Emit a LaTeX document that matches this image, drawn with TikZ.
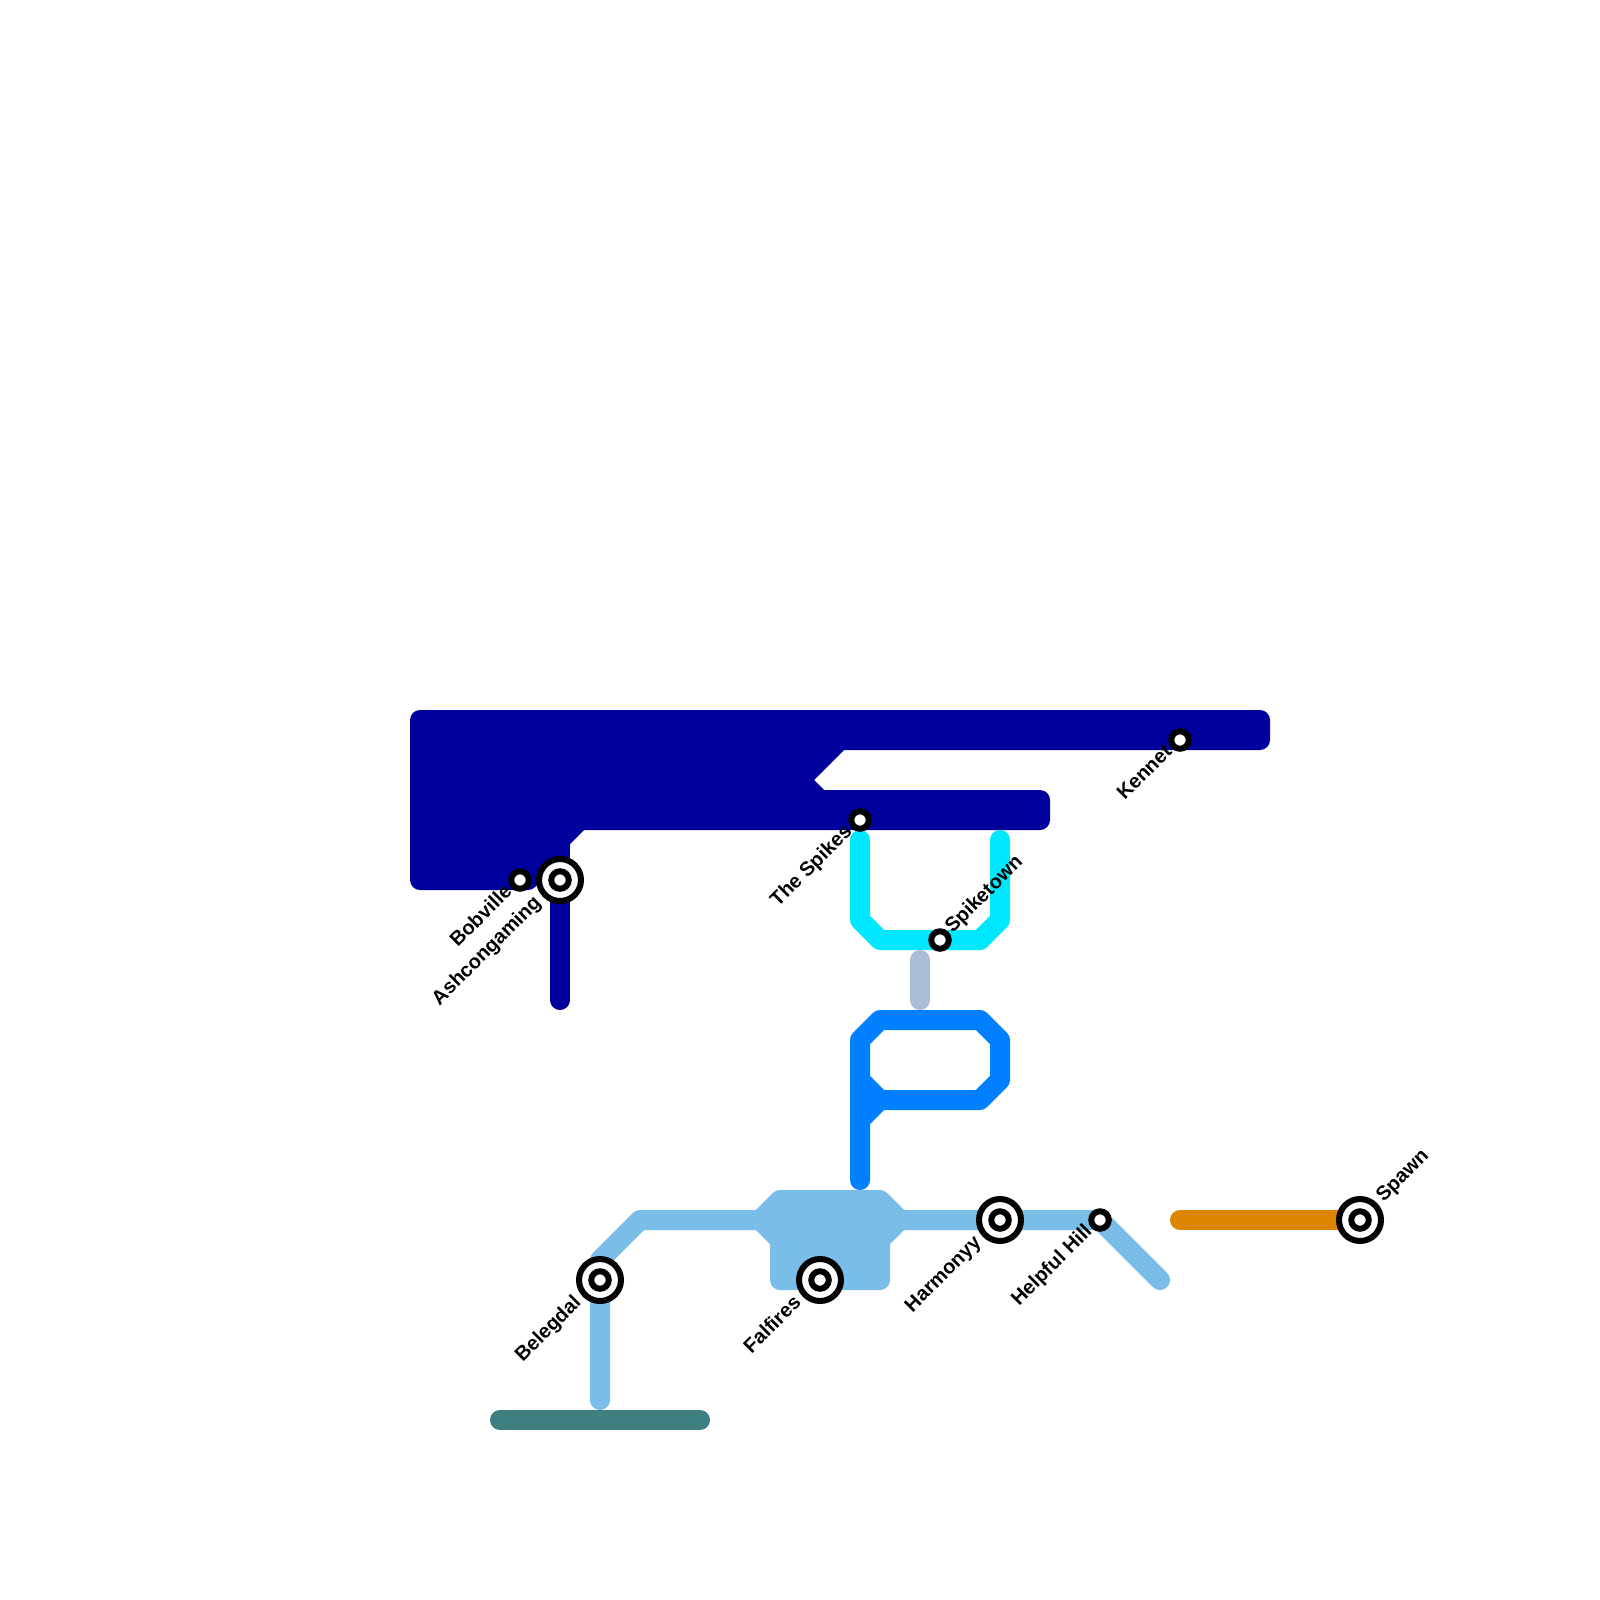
\documentclass[tikz,border=0pt]{standalone}
\usepackage{fontspec}
\setmainfont{Liberation Sans}
\definecolor{navy}{HTML}{00009C}
\definecolor{skyb}{HTML}{7ABDE9}
\definecolor{cyanl}{HTML}{00E8FF}
\definecolor{azure}{HTML}{007FFF}
\definecolor{greyb}{HTML}{ABBCD8}
\definecolor{tealg}{HTML}{3E7F7F}
\definecolor{orng}{HTML}{DD8500}
\tikzset{
  x=1pt,y=-1pt,
  metro/.style={line width=20pt,line cap=round,line join=round},
  smallst/.style={circle,draw=black,fill=white,line width=6pt,minimum size=17.5pt,inner sep=0pt,outer sep=0pt},
  bigst/.style={circle,draw=black,fill=white,line width=6pt,minimum size=42pt,inner sep=0pt,outer sep=0pt},
  bigcore/.style={circle,draw=black,fill=white,line width=6pt,minimum size=17.5pt,inner sep=0pt,outer sep=0pt},
  lbl/.style={font=\bfseries\fontsize{20}{20}\selectfont,inner sep=0pt,outer sep=0pt,rotate=45},
  lblw/.style={lbl,anchor=mid east},
  lble/.style={lbl,anchor=mid west}
}
\begin{document}
\begin{tikzpicture}
\useasboundingbox (0,0) rectangle (1600,1600);
\fill[white] (0,0) rectangle (1600,1600);
% station positions
\coordinate (pBob) at (520,880);
\coordinate (pAsh) at (560,880);
\coordinate (pSpk) at (860,820);
\coordinate (pTwn) at (940,940);
\coordinate (pKen) at (1180,740);
\coordinate (pSpa) at (1360,1220);
\coordinate (pHar) at (1000,1220);
\coordinate (pHel) at (1100,1220);
\coordinate (pFal) at (820,1280);
\coordinate (pBel) at (600,1280);
% navy
\draw[metro,navy,fill=navy] (420,720) -- (1260,720) -- (1260,740) -- (840,740) -- (800,780) -- (820,800) -- (1040,800) -- (1040,820) -- (580,820) -- (560,840) -- (560,848) -- (528,880) -- (420,880) -- cycle;
\coordinate (navyEnd) at (560,1000);
\coordinate (navyTop) at (560,840);
\draw[metro,navy] (navyTop) -- (navyEnd);
% cyan
\coordinate (cyanA) at (860,840);
\coordinate (cyanB) at (1000,840);
\draw[metro,cyanl] (cyanA) -- (860,920) -- (880,940) -- (980,940) -- (1000,920) -- (cyanB);
% grey-blue
\coordinate (greyA) at (920,960);
\coordinate (greyB) at (920,1000);
\draw[metro,greyb] (greyA) -- (greyB);
% azure
\coordinate (azA) at (860,1180);
\draw[metro,azure] (azA) -- (860,1040) -- (880,1020) -- (980,1020) -- (1000,1040) -- (1000,1080) -- (980,1100) -- (880,1100) -- (860,1080);
\draw[metro,azure] (880,1100) -- (860,1120);
% sky
\coordinate (skyEnd) at (600,1400);
\coordinate (skyFar) at (1160,1280);
\draw[metro,skyb] (skyEnd) -- (pBel) -- (600,1260) -- (640,1220) -- (pHel) -- (skyFar);
\draw[metro,skyb,fill=skyb] (780,1200) -- (880,1200) -- (900,1220) -- (880,1240) -- (880,1280) -- (780,1280) -- (780,1240) -- (760,1220) -- cycle;
% teal
\coordinate (tealA) at (500,1420);
\coordinate (tealB) at (700,1420);
\draw[metro,tealg] (tealA) -- (tealB);
% orange
\coordinate (orA) at (1180,1220);
\draw[metro,orng] (orA) -- (pSpa);
% stations
\node[smallst] (Bob) at (pBob) {};
\node[bigst] (Ash) at (pAsh) {}; \node[bigcore] (AshC) at (pAsh) {};
\node[smallst] (Spk) at (pSpk) {};
\node[smallst] (Twn) at (pTwn) {};
\node[smallst] (Ken) at (pKen) {};
\node[bigst] (Spa) at (pSpa) {}; \node[bigcore] (SpaC) at (pSpa) {};
\node[bigst] (Har) at (pHar) {}; \node[bigcore] (HarC) at (pHar) {};
\node[smallst] (Hel) at (pHel) {};
\node[bigst] (Fal) at (pFal) {}; \node[bigcore] (FalC) at (pFal) {};
\node[bigst] (Bel) at (pBel) {}; \node[bigcore] (BelC) at (pBel) {};
% labels
\node[lblw] (tBob) at (511,891) {Bobville};
\node[lblw] (tAsh) at (540,902) {Ashcongaming};
\node[lblw] (tSpk) at (851,831) {The Spikes};
\node[lble] (tTwn) at (951,932) {Spiketown};
\node[lblw] (tKen) at (1171,751) {Kennet};
\node[lble] (tSpa) at (1382,1201) {Spawn};
\node[lblw] (tHar) at (980,1242) {Harmonyy};
\node[lblw] (tHel) at (1091,1231) {Helpful Hill};
\node[lblw] (tFal) at (800,1302) {Falfires};
\node[lblw] (tBel) at (580,1302) {Belegdal};
\end{tikzpicture}
\end{document}
